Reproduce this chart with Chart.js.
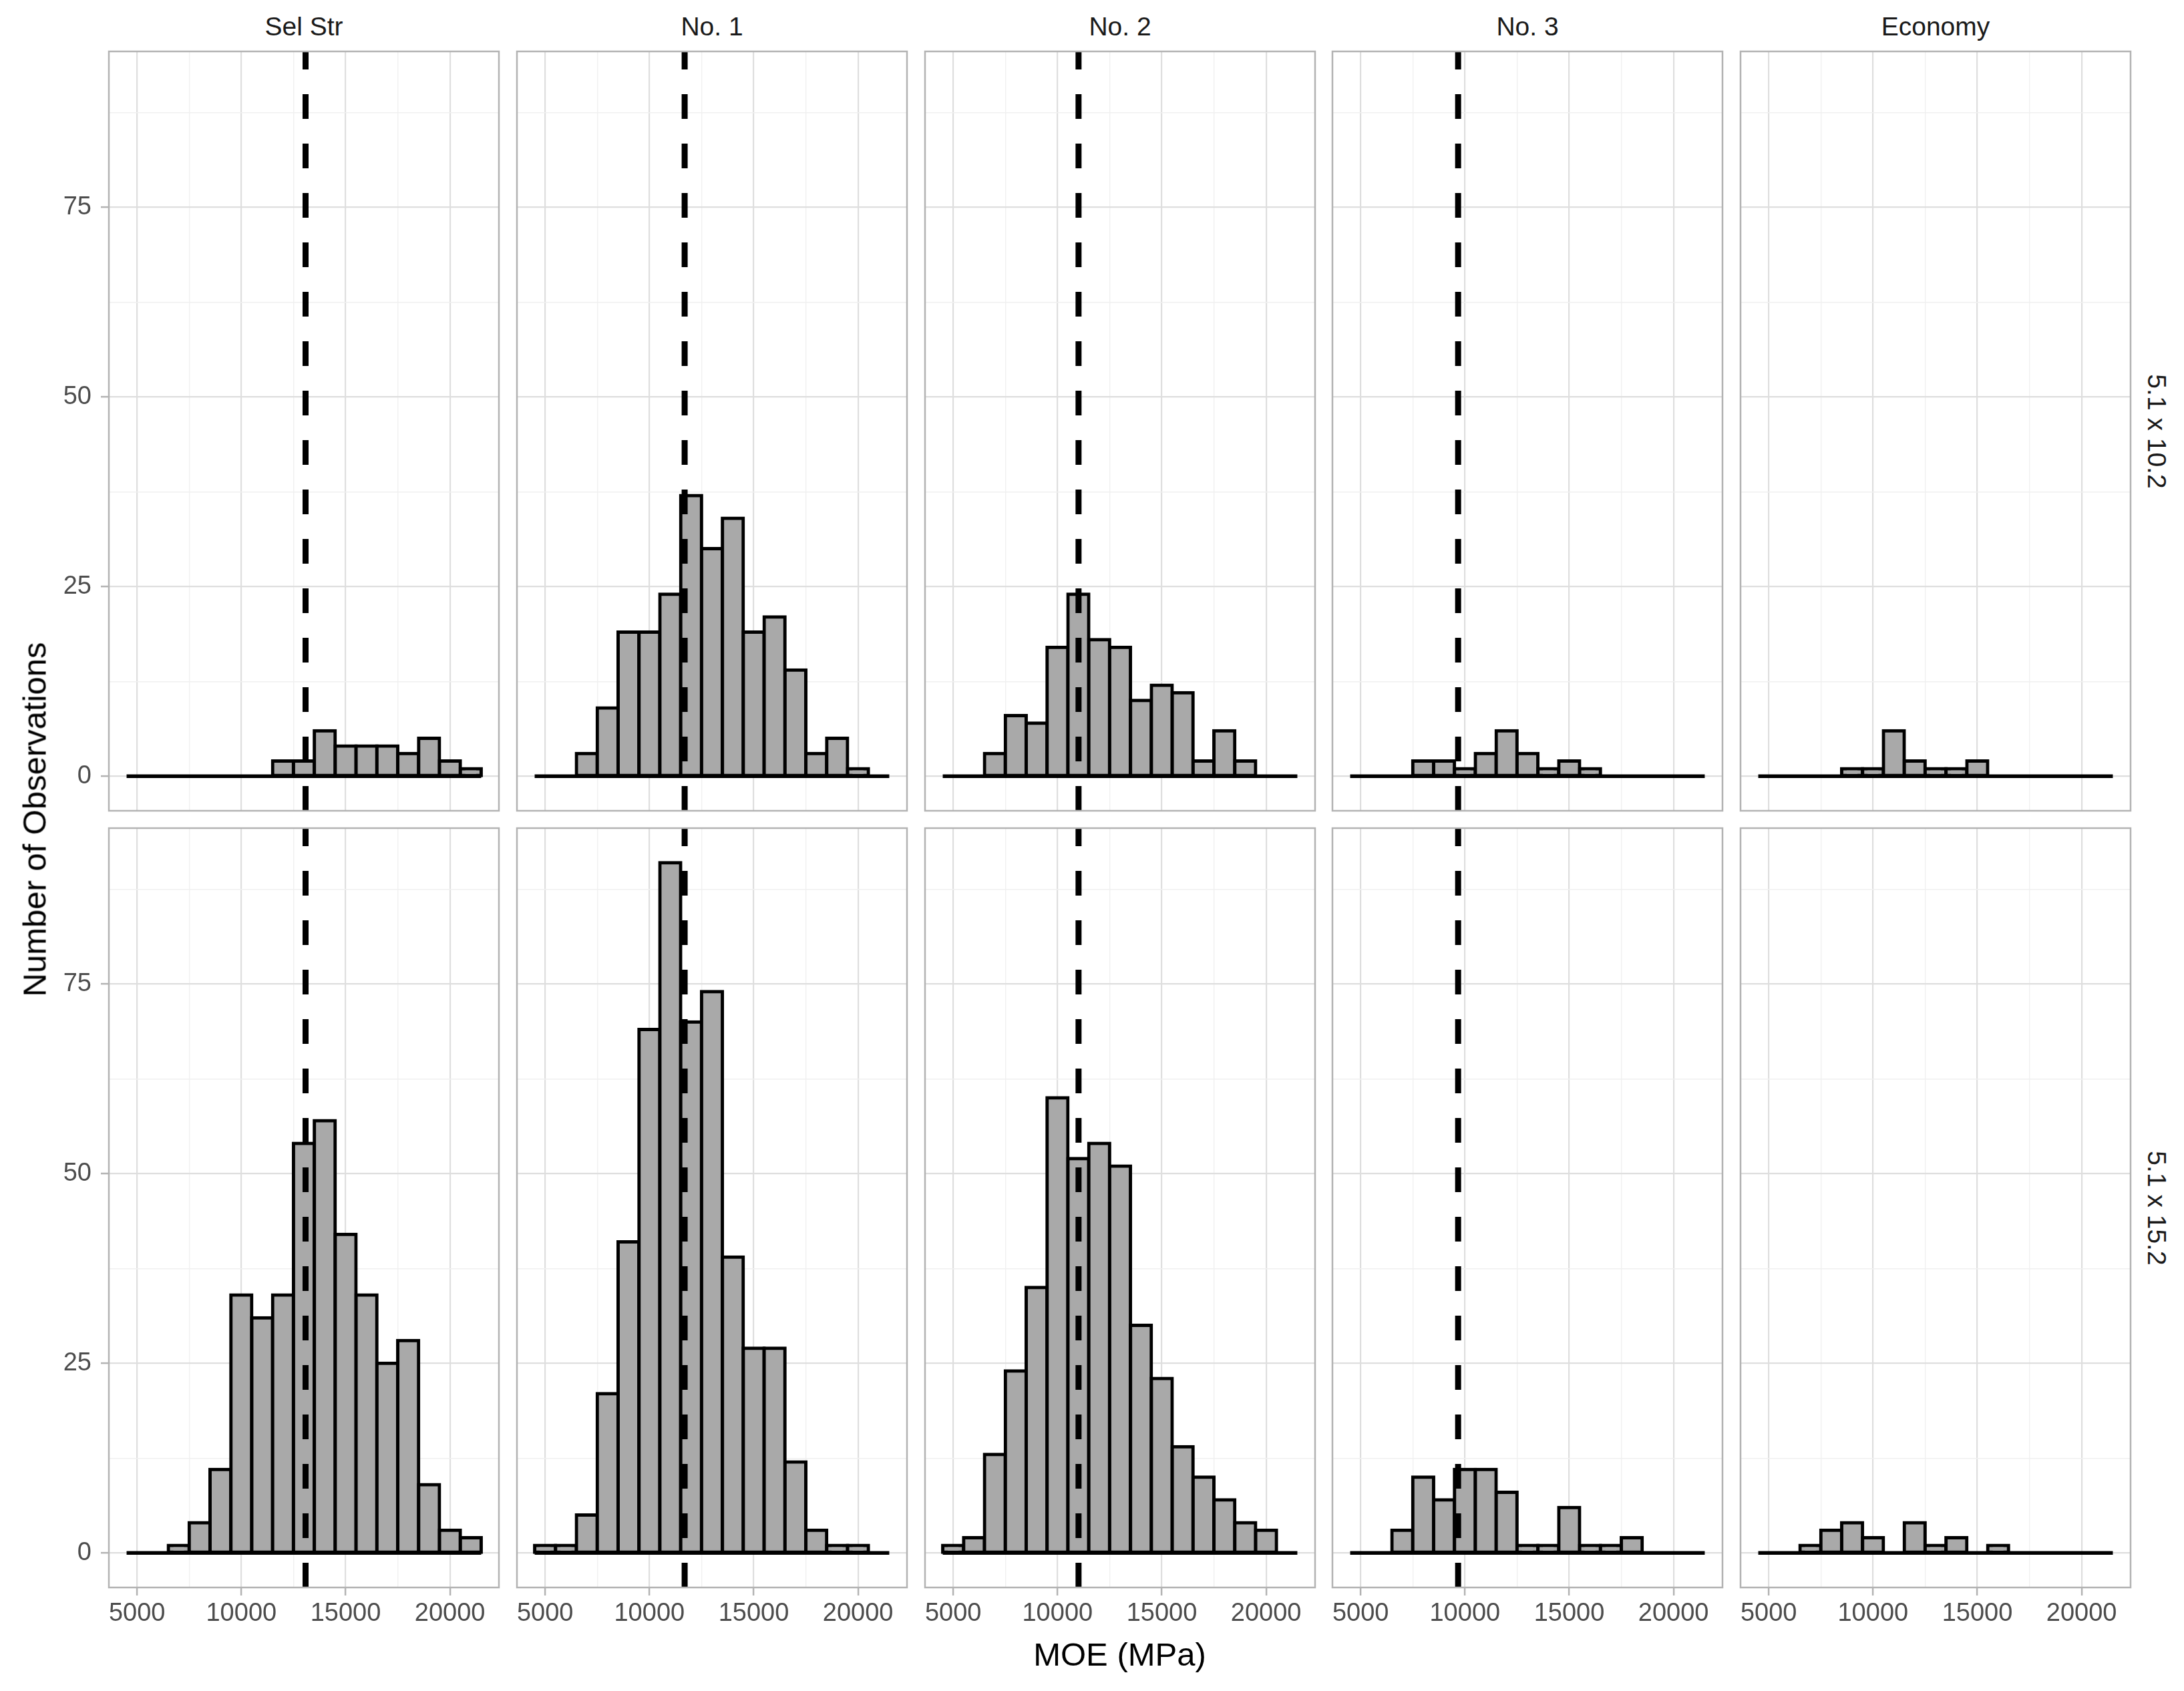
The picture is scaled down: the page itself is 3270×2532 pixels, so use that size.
<!DOCTYPE html>
<html>
<head>
  <meta charset="UTF-8">
  <title>MOE histograms by grade and size</title>
  <script src="https://cdn.jsdelivr.net/npm/chart.js"></script>
  <style>
    body {
      margin: 0;
      background: #fff;
      font-family: "Liberation Sans", Arial, sans-serif;
    }

    #figure {
      position: relative;
      width: 3270px;
      height: 2532px;
      overflow: hidden;
    }

    #figure canvas {
      position: absolute;
    }

    .strip-top {
      position: absolute;
      top: 20px;
      height: 39px;
      line-height: 39px;
      font-size: 39px;
      color: #1a1a1a;
      text-align: center;
      white-space: nowrap;
    }

    .strip-right {
      position: absolute;
      font-size: 39px;
      line-height: 39px;
      color: #1a1a1a;
      white-space: nowrap;
      transform: translate(-50%, -50%) rotate(90deg);
    }

    #x-title {
      position: absolute;
      top: 2453px;
      font-size: 49px;
      line-height: 49px;
      color: #000;
      white-space: nowrap;
      transform: translateX(-50%);
    }

    #y-title {
      position: absolute;
      font-size: 49px;
      line-height: 49px;
      color: #000;
      white-space: nowrap;
      transform: translate(-50%, -50%) rotate(-90deg);
    }
  </style>
</head>
<body>
  <div id="figure"></div>

  <script>
    // histogram bins (1000 MPa wide, centred on whole thousands)
    const binCenters = [5000, 6000, 7000, 8000, 9000, 10000, 11000, 12000, 13000,
                        14000, 15000, 16000, 17000, 18000, 19000, 20000, 21000];
    const binWidth = 1000;

    const grades = ["Sel Str", "No. 1", "No. 2", "No. 3", "Economy"];
    const sizes = ["5.1 x 10.2", "5.1 x 15.2"];

    // dashed reference line per grade (Economy has none)
    const gradeLines = [13080, 11690, 11010, 9675, null];

    // counts, 5.1 x 10.2
    const selStr102  = [0, 0, 0, 0, 0, 0, 0, 2, 2, 6, 4, 4, 4, 3, 5, 2, 1];
    const no1_102    = [0, 0, 3, 9, 19, 19, 24, 37, 30, 34, 19, 21, 14, 3, 5, 1, 0];
    const no2_102    = [0, 0, 3, 8, 7, 17, 24, 18, 17, 10, 12, 11, 2, 6, 2, 0, 0];
    const no3_102    = [0, 0, 0, 2, 2, 1, 3, 6, 3, 1, 2, 1, 0, 0, 0, 0, 0];
    const economy102 = [0, 0, 0, 0, 1, 1, 6, 2, 1, 1, 2, 0, 0, 0, 0, 0, 0];

    // counts, 5.1 x 15.2
    const selStr152  = [0, 0, 1, 4, 11, 34, 31, 34, 54, 57, 42, 34, 25, 28, 9, 3, 2];
    const no1_152    = [1, 1, 5, 21, 41, 69, 91, 70, 74, 39, 27, 27, 12, 3, 1, 1, 0];
    const no2_152    = [1, 2, 13, 24, 35, 60, 52, 54, 51, 30, 23, 14, 10, 7, 4, 3, 0];
    const no3_152    = [0, 0, 3, 10, 7, 11, 11, 8, 1, 1, 6, 1, 1, 2, 0, 0, 0];
    const economy152 = [0, 0, 1, 3, 4, 2, 0, 4, 1, 2, 0, 1, 0, 0, 0, 0, 0];

    // axes
    const xMajorTicks = [5000, 10000, 15000, 20000];
    const xMinorTicks = [7500, 12500, 17500];
    const yMajorTicks = [0, 25, 50, 75];
    const yMinorTicks = [12.5, 37.5, 62.5, 87.5];
    const xLimits = [3650, 22350];
    const yLimits = [-4.55, 95.55];

    const counts = [
      [selStr102, no1_102, no2_102, no3_102, economy102],
      [selStr152, no1_152, no2_152, no3_152, economy152]
    ];

    // page layout of the panels
    const panelLeft = [163, 774, 1385, 1995, 2606];
    const panelTop = [77, 1240];
    const panelW = 584;
    const panelH = 1137;

    Chart.defaults.font.family = '"Liberation Sans", Arial, sans-serif';

    const panelFrame = {
      id: "panelFrame",
      afterDatasetsDraw(chart) {
        const a = chart.chartArea;
        const ctx = chart.ctx;
        ctx.save();
        ctx.strokeStyle = "#b3b3b3";
        ctx.lineWidth = 2.5;
        ctx.strokeRect(a.left, a.top, a.right - a.left, a.bottom - a.top);
        ctx.restore();
      }
    };

    const figure = document.getElementById("figure");

    function addText(cls, text, css) {
      const div = document.createElement("div");
      div.className = cls;
      div.textContent = text;
      Object.assign(div.style, css);
      figure.appendChild(div);
      return div;
    }

    function sortedTicks(a, b) {
      return a.concat(b).sort((p, q) => p - q).map(v => ({ value: v }));
    }

    for (let r = 0; r < sizes.length; r++) {
      for (let c = 0; c < grades.length; c++) {
        const showY = c === 0;
        const showX = r === 1;
        const padL = showY ? panelLeft[0] : 20;
        const padB = showX ? 80 : 6;
        const padT = 6;
        const padR = 6;

        const canvas = document.createElement("canvas");
        canvas.width = padL + panelW + padR;
        canvas.height = padT + panelH + padB;
        canvas.style.left = (panelLeft[c] - padL) + "px";
        canvas.style.top = (panelTop[r] - padT) + "px";
        canvas.style.width = canvas.width + "px";
        canvas.style.height = canvas.height + "px";
        figure.appendChild(canvas);

        const vals = counts[r][c];
        const mean = gradeLines[c];

        new Chart(canvas, {
          type: "bar",
          data: {
            datasets: [
              {
                type: "line",
                data: mean === null ? [] : [{ x: mean, y: yLimits[0] }, { x: mean, y: yLimits[1] }],
                borderColor: "#000",
                borderWidth: 9,
                borderDash: [37, 37],
                pointRadius: 0,
                order: 0
              },
              {
                type: "line",
                data: [
                  { x: binCenters[0] - binWidth / 2, y: 0 },
                  { x: binCenters[binCenters.length - 1] + binWidth / 2, y: 0 }
                ],
                borderColor: "#000",
                borderWidth: 5.5,
                pointRadius: 0,
                order: 1
              },
              {
                type: "bar",
                data: binCenters.map((x, k) => ({ x: x, y: vals[k] > 0 ? vals[k] : null })),
                backgroundColor: "#a9a9a9",
                borderColor: "#000",
                borderWidth: 5,
                borderSkipped: false,
                inflateAmount: 2.5,
                barPercentage: 1,
                categoryPercentage: 1,
                order: 2
              }
            ]
          },
          options: {
            responsive: false,
            animation: false,
            events: [],
            layout: { padding: { top: padT, right: padR, left: 0, bottom: 0 } },
            plugins: { legend: { display: false }, tooltip: { enabled: false } },
            scales: {
              x: {
                type: "linear",
                position: "bottom",
                min: xLimits[0],
                max: xLimits[1],
                bounds: "data",
                offset: false,
                afterBuildTicks: s => { s.ticks = sortedTicks(xMajorTicks, xMinorTicks); },
                afterFit: s => { s.height = padB; s.paddingLeft = 0; s.paddingRight = 0; },
                grid: {
                  offset: false,
                  color: ctx => xMajorTicks.includes(ctx.tick.value) ? "#dedede" : "#f0f0f0",
                  lineWidth: ctx => xMajorTicks.includes(ctx.tick.value) ? 2.2 : 1.4,
                  drawTicks: showX,
                  tickLength: 12,
                  tickWidth: 2.5,
                  tickColor: ctx => xMajorTicks.includes(ctx.tick.value) ? "#b3b3b3" : "rgba(0,0,0,0)"
                },
                border: { display: false },
                ticks: {
                  display: showX,
                  autoSkip: false,
                  maxRotation: 0,
                  padding: 5,
                  color: "#4d4d4d",
                  font: { size: 38 },
                  callback: v => xMajorTicks.includes(v) ? String(v) : ""
                }
              },
              y: {
                type: "linear",
                min: yLimits[0],
                max: yLimits[1],
                bounds: "data",
                afterBuildTicks: s => { s.ticks = sortedTicks(yMajorTicks, yMinorTicks); },
                afterFit: s => { s.width = padL; s.paddingTop = 0; s.paddingBottom = 0; },
                grid: {
                  color: ctx => yMajorTicks.includes(ctx.tick.value) ? "#dedede" : "#f0f0f0",
                  lineWidth: ctx => yMajorTicks.includes(ctx.tick.value) ? 2.2 : 1.4,
                  drawTicks: showY,
                  tickLength: 12,
                  tickWidth: 2.5,
                  tickColor: ctx => yMajorTicks.includes(ctx.tick.value) ? "#b3b3b3" : "rgba(0,0,0,0)"
                },
                border: { display: false },
                ticks: {
                  display: showY,
                  autoSkip: false,
                  padding: 14,
                  color: "#4d4d4d",
                  font: { size: 38 },
                  callback: v => yMajorTicks.includes(v) ? String(v) : ""
                }
              }
            }
          },
          plugins: [panelFrame]
        });
      }
    }

    // facet strips
    grades.forEach((g, c) => {
      addText("strip-top", g, { left: panelLeft[c] + "px", width: panelW + "px" });
    });
    sizes.forEach((s, r) => {
      addText("strip-right", s, { left: "3229px", top: (panelTop[r] + panelH / 2) + "px" });
    });

    // axis titles
    addText("", "MOE (MPa)", { left: ((panelLeft[0] + panelLeft[4] + panelW) / 2) + "px" }).id = "x-title";
    addText("", "Number of Observations", { left: "52px", top: ((panelTop[0] + panelTop[1] + panelH) / 2) + "px" }).id = "y-title";
  </script>
</body>
</html>
